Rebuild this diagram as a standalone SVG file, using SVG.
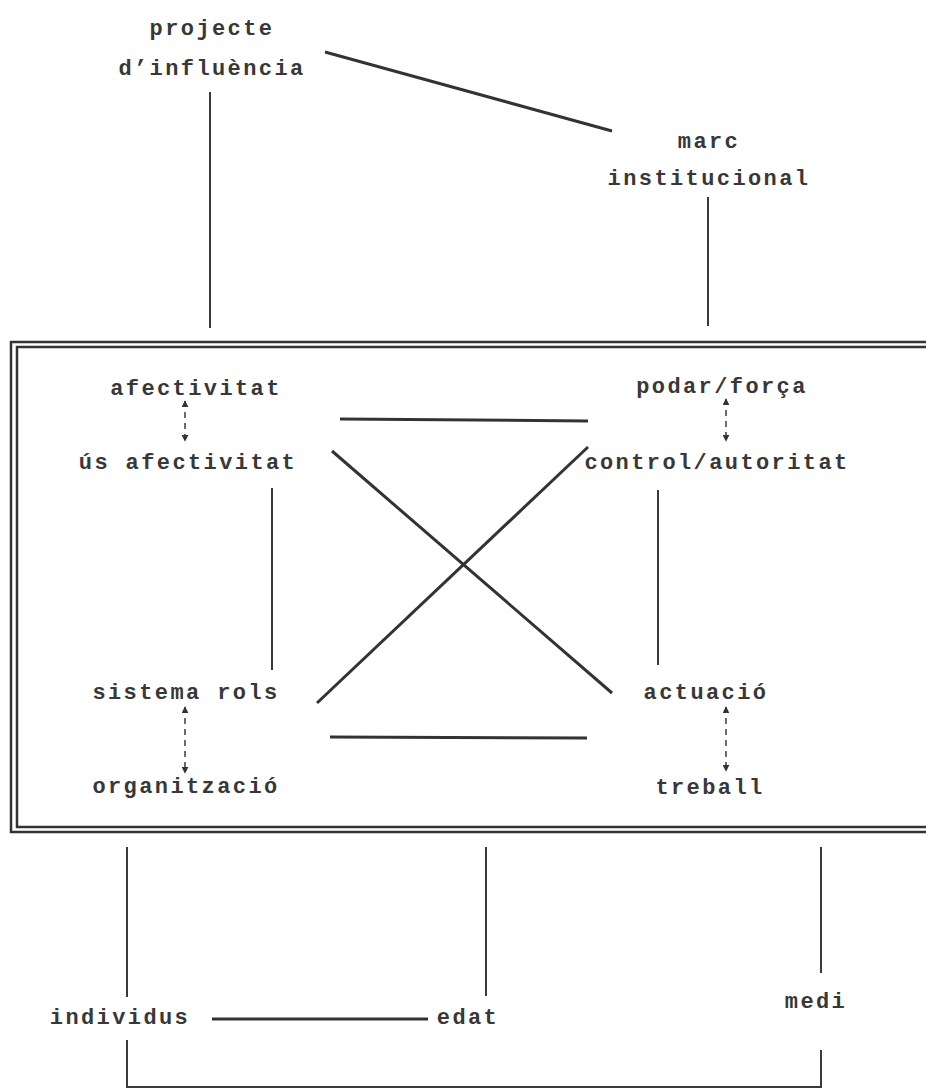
<svg xmlns="http://www.w3.org/2000/svg" width="926" height="1089" viewBox="0 0 926 1089">
<defs>
<style>
text{font-family:"Liberation Mono","DejaVu Sans Mono",monospace;font-size:22px;font-weight:bold;fill:#383838;letter-spacing:2.4px;text-anchor:middle}
.ln{stroke:#3a3a3a;stroke-width:2;fill:none}
.thk{stroke:#333;stroke-width:3;fill:none}
.dash{stroke:#3a3a3a;stroke-width:1.5;stroke-dasharray:6 5;fill:none;marker-start:url(#ah);marker-end:url(#ah)}
.box{stroke:#333;stroke-width:2.5;fill:none}
</style>
<marker id="ah" viewBox="0 0 10 10" refX="9" refY="5" markerWidth="7" markerHeight="7" orient="auto-start-reverse" markerUnits="userSpaceOnUse">
<path d="M0,0 L10,5 L0,10 z" fill="#333"/>
</marker>
</defs>
<rect width="926" height="1089" fill="#fff"/>
<g id="connectors">
<line class="thk" x1="325" y1="52" x2="612" y2="131"/>
<line class="ln" x1="210" y1="92" x2="210" y2="328"/>
<line class="ln" x1="708" y1="197" x2="708" y2="326"/>
<line class="thk" x1="340" y1="419" x2="588" y2="421"/>
<line class="thk" x1="332" y1="451" x2="612" y2="693"/>
<line class="thk" x1="317" y1="703" x2="588" y2="447"/>
<line class="thk" x1="330" y1="737" x2="587" y2="738"/>
<line class="ln" x1="272" y1="488" x2="272" y2="670"/>
<line class="ln" x1="658" y1="490" x2="658" y2="665"/>
<line class="dash" x1="185" y1="401" x2="185" y2="441"/>
<line class="dash" x1="726" y1="399" x2="726" y2="441"/>
<line class="dash" x1="185" y1="707" x2="185" y2="773"/>
<line class="dash" x1="726" y1="707" x2="726" y2="771"/>
<line class="ln" x1="127" y1="847" x2="127" y2="997"/>
<line class="ln" x1="486" y1="847" x2="486" y2="996"/>
<line class="ln" x1="821" y1="847" x2="821" y2="973"/>
<line class="thk" x1="212" y1="1019" x2="428" y2="1019"/>
<path class="ln" d="M127,1040 V1087 H821 V1050"/>
</g>
<g id="box">
<rect class="box" x="11" y="342" width="930" height="490"/>
<rect class="box" x="17" y="347" width="930" height="480"/>
</g>
<g id="projecte"><text x="212" y="35">projecte</text><text x="212" y="75">d’influència</text></g>
<g id="marc"><text x="709" y="148">marc</text><text x="709" y="185">institucional</text></g>
<g id="afectivitat"><text x="196" y="395">afectivitat</text></g>
<g id="us-afectivitat"><text x="188" y="469">ús afectivitat</text></g>
<g id="poder"><text x="722" y="393">podar/força</text></g>
<g id="control"><text x="717" y="469">control/autoritat</text></g>
<g id="sistema-rols"><text x="186" y="699">sistema rols</text></g>
<g id="organitzacio"><text x="186" y="793">organització</text></g>
<g id="actuacio"><text x="706" y="699">actuació</text></g>
<g id="treball"><text x="710" y="794">treball</text></g>
<g id="individus"><text x="120" y="1024">individus</text></g>
<g id="edat"><text x="468" y="1024">edat</text></g>
<g id="medi"><text x="816" y="1008">medi</text></g>
</svg>
